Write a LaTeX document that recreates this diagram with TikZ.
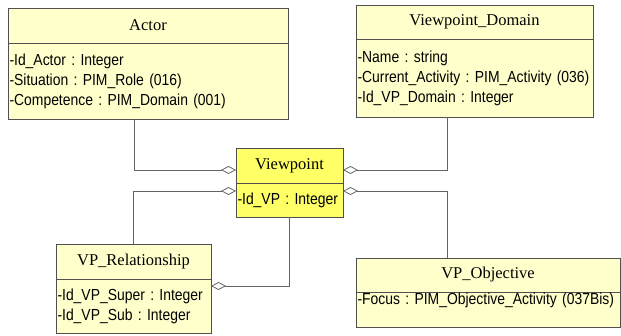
\documentclass[tikz,border=0pt]{standalone}
\usepackage{fontspec}
\setmainfont{Liberation Serif}
\newfontfamily\attrfont[FakeStretch=0.87]{Liberation Sans}
\newcommand\attrsetup{\attrfont\fontsize{16}{20}\selectfont\frenchspacing\hyphenpenalty=10000\relax}
\usetikzlibrary{arrows.meta,positioning}
\definecolor{classfill}{RGB}{255,255,204}
\definecolor{vpfill}{RGB}{255,255,102}
\definecolor{boxline}{RGB}{80,80,80}
\definecolor{linkline}{RGB}{100,100,100}

\begin{document}
\begin{tikzpicture}[x=1pt,y=1pt]
        \tikzset{
            classname/.style={
                    draw=boxline, fill=classfill, line width=0.9pt,
                    anchor=north west, inner sep=0pt, outer sep=0pt,
                    font=\fontsize{16.5}{18}\selectfont
                },
            classattr/.style={
                    draw=boxline, fill=classfill, line width=0.9pt,
                    inner xsep=1.5pt, inner ysep=0pt, outer sep=0pt, align=left,
                    font=\attrsetup
                },
            aggr/.style={
                    draw=linkline, line width=0.8pt,
                    -{Diamond[open,length=15pt,width=8pt]}
                }
        }
        \useasboundingbox (0,0) rectangle (621,336);
        % classes
        \node[classname, minimum width=280pt, minimum height=35pt] (actor) at (8,328) {Actor};
        \node[classattr, below=0pt of actor, minimum width=280pt, minimum height=76pt, text width=277pt] (actor-attr)
            {-Id\_Actor : Integer\\-Situation : PIM\_Role (016)\\-Competence : PIM\_Domain (001)};
        \node[classname, minimum width=237pt, minimum height=34pt] (dom) at (356,331) {Viewpoint\_Domain};
        \node[classattr, below=0pt of dom, minimum width=237pt, minimum height=78pt, text width=234pt] (dom-attr)
            {-Name : string\\\mbox{-Current\_Activity : PIM\_Activity (036)}\\-Id\_VP\_Domain : Integer};
        \node[classname, fill=vpfill, minimum width=107pt, minimum height=35pt] (vp) at (236,188) {Viewpoint};
        \node[classattr, fill=vpfill, below=0pt of vp, minimum width=107pt, minimum height=34pt, text width=104pt] (vp-attr)
            {-Id\_VP : Integer};
        \node[classname, minimum width=155pt, minimum height=35pt] (rel) at (56,92) {VP\_Relationship};
        \node[classattr, below=0pt of rel, minimum width=155pt, minimum height=54pt, text width=152pt] (rel-attr)
            {-Id\_VP\_Super : Integer\\-Id\_VP\_Sub : Integer};
        \node[classname, minimum width=264pt, minimum height=34pt] (obj) at (356,78) {VP\_Objective};
        \node[classattr, below=0pt of obj, minimum width=264pt, inner ysep=2pt, text height=11pt, text depth=20pt, text width=261pt] (obj-attr)
            {-Focus : PIM\_Objective\_Activity (037Bis)};
        % aggregations
        \draw[aggr] ([xshift=-14pt]actor-attr.south) |- ([yshift=-4.5pt]vp.west);
        \draw[aggr] ([xshift=-27.5pt]dom-attr.south) |- ([yshift=-4.5pt]vp.east);
        \draw[aggr] (rel.north) |- ([yshift=9pt]vp-attr.west);
        \draw[aggr] ([xshift=-41pt]obj.north) |- ([yshift=9pt]vp-attr.east);
        \draw[aggr] (vp-attr.south) |- ([yshift=20pt]rel-attr.east);
    \end{tikzpicture}
\end{document}
